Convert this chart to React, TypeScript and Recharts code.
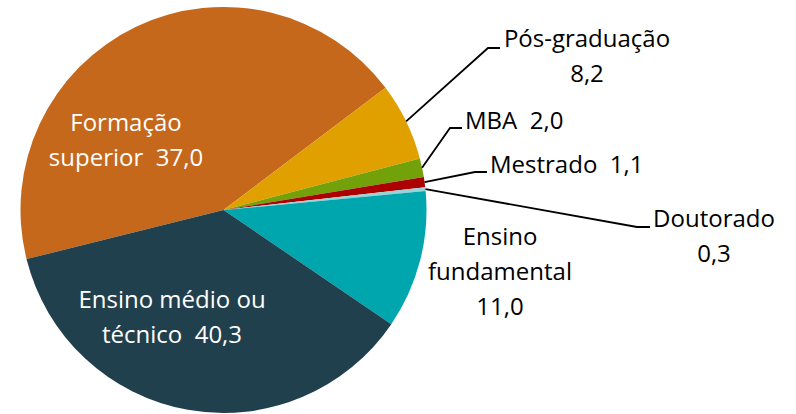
import React from "react";
import { PieChart, Pie, Cell } from "recharts";

// categorias e valores mostrados nos rótulos
const categories = [
  "Formação superior",
  "Pós-graduação",
  "MBA",
  "Mestrado",
  "Doutorado",
  "Ensino fundamental",
  "Ensino médio ou técnico",
];
const labelValues = [37.0, 8.2, 2.0, 1.1, 0.3, 11.0, 40.3];
// tamanho das fatias como aparecem desenhadas na figura (%)
const sliceShares = [43.6, 6.2, 1.5, 0.8, 0.3, 11.0, 36.6];
const colors = ["#C5681B", "#E0A000", "#72A10A", "#AD0000", "#9AD3D6", "#00A6AE", "#21404D"];

const data = categories.map((name, i) => ({
  name,
  share: sliceShares[i],
  label: labelValues[i],
}));

// quebra de linha dos rótulos e posição do texto
type LabelLayout = {
  lines: (v: string) => string[];
  x: number;
  y: number;
  anchor: "start" | "middle";
  fill: string;
  elbow?: [number, number];
  lineEnd?: number;
};

const layout: LabelLayout[] = [
  { lines: (v) => ["Formação", `superior  ${v}`], x: 126, y: 131, anchor: "middle", fill: "#fff" },
  { lines: (v) => ["Pós-graduação", v], x: 587, y: 47, anchor: "middle", fill: "#000", elbow: [488, 48], lineEnd: 500 },
  { lines: (v) => [`MBA  ${v}`], x: 465, y: 129, anchor: "start", fill: "#000", elbow: [450, 128], lineEnd: 462 },
  { lines: (v) => [`Mestrado  ${v}`], x: 490, y: 173, anchor: "start", fill: "#000", elbow: [475, 172], lineEnd: 487 },
  { lines: (v) => ["Doutorado", v], x: 714, y: 227, anchor: "middle", fill: "#000", elbow: [637, 227], lineEnd: 650 },
  { lines: (v) => ["Ensino", "fundamental", v], x: 500, y: 245, anchor: "middle", fill: "#000" },
  { lines: (v) => ["Ensino médio ou", `técnico  ${v}`], x: 172, y: 308, anchor: "middle", fill: "#fff" },
];

const RADIAN = Math.PI / 180;
const fmt = (v: number) => v.toFixed(1).replace(".", ",");

const renderLabel = (props: any) => {
  const { cx, cy, midAngle, outerRadius, index } = props;
  const l = layout[index];
  const value = fmt(labelValues[index]);
  let leader = null;
  if (l.elbow) {
    const sx = cx + outerRadius * Math.cos(-midAngle * RADIAN);
    const sy = cy + outerRadius * Math.sin(-midAngle * RADIAN);
    leader = (
      <polyline
        points={`${sx},${sy} ${l.elbow[0]},${l.elbow[1]} ${l.lineEnd},${l.elbow[1]}`}
        fill="none"
        stroke="#000"
        strokeWidth={1.8}
      />
    );
  }
  return (
    <g key={`lbl-${index}`}>
      {leader}
      <text
        x={l.x}
        y={l.y}
        textAnchor={l.anchor}
        fill={l.fill}
        fontSize={24}
        fontFamily="'Open Sans', sans-serif"
        style={{ whiteSpace: "pre" }}
      >
        {l.lines(value).map((t, i) => (
          <tspan key={i} x={l.x} dy={i === 0 ? 0 : 35}>
            {t}
          </tspan>
        ))}
      </text>
    </g>
  );
};

export default function App() {
  return (
    <div style={{ position: "absolute", left: 0, top: 0, width: 796, height: 414, background: "#fff" }}>
      <PieChart width={796} height={414} margin={{ top: 0, right: 0, bottom: 0, left: 0 }}>
        <Pie
          data={data}
          dataKey="share"
          nameKey="name"
          cx={223.5}
          cy={210}
          outerRadius={203}
          startAngle={194}
          endAngle={-166}
          stroke="none"
          label={renderLabel}
          labelLine={false}
          isAnimationActive={false}
        >
          {data.map((d, i) => (
            <Cell key={d.name} fill={colors[i]} />
          ))}
        </Pie>
      </PieChart>
    </div>
  );
}
